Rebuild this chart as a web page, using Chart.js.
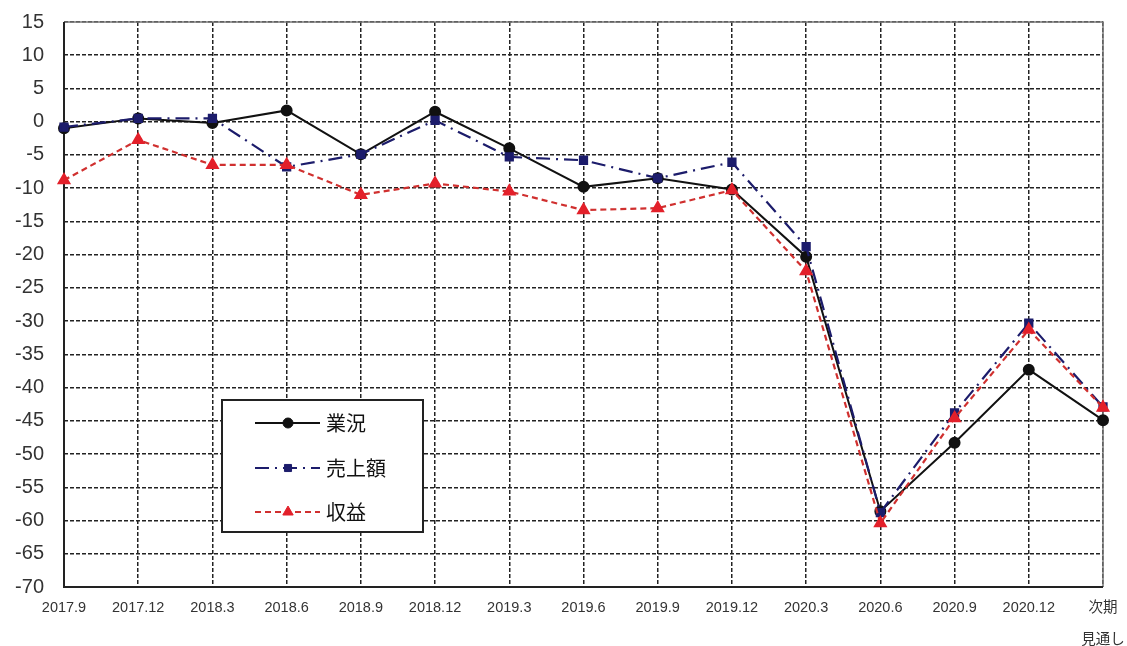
<!DOCTYPE html>
<html>
<head>
<meta charset="utf-8">
<script src="https://cdn.jsdelivr.net/npm/chart.js@4.4.1/dist/chart.umd.min.js"></script>
<style>
  html, body { margin: 0; padding: 0; background: #fff; }
  #wrap { width: 1127px; height: 646px; position: relative; }
</style>
</head>
<body>
<div id="wrap"><canvas id="c" width="1127" height="646"></canvas></div>
<script>
const categories = ['2017.9','2017.12','2018.3','2018.6','2018.9','2018.12','2019.3','2019.6','2019.9','2019.12','2020.3','2020.6','2020.9','2020.12',['次期','見通し']];
const seriesNames = ['業況','売上額','収益'];
const gyokyo  = [-1.0, 0.5, -0.2, 1.7, -4.9, 1.5, -4.0, -9.8, -8.5, -10.2, -20.3, -58.6, -48.3, -37.3, -44.9];
const uriage  = [-0.8, 0.5, 0.5, -6.8, -4.9, 0.2, -5.3, -5.8, -8.5, -6.1, -18.8, -58.8, -43.8, -30.3, -42.9];
const shueki  = [-8.8, -2.75, -6.5, -6.5, -11.0, -9.3, -10.5, -13.3, -13.0, -10.3, -22.5, -60.4, -44.6, -31.3, -43.0];
const yMin = -70, yMax = 15, yStep = 5;

const FONT = "'Liberation Sans', Arial, sans-serif";

const frame = {
  id: 'frame',
  beforeDatasetsDraw(chart) {
    const a = chart.chartArea, ctx = chart.ctx;
    ctx.save();
    ctx.setLineDash([]);
    ctx.strokeStyle = '#777';
    ctx.lineWidth = 1.5;
    ctx.beginPath();
    ctx.moveTo(a.left, a.top); ctx.lineTo(a.right, a.top); ctx.lineTo(a.right, a.bottom);
    ctx.stroke();
    ctx.strokeStyle = '#222';
    ctx.lineWidth = 2;
    ctx.beginPath();
    ctx.moveTo(a.left, a.top); ctx.lineTo(a.left, a.bottom); ctx.lineTo(a.right, a.bottom);
    ctx.stroke();
    ctx.restore();
  }
};

const boxLegend = {
  id: 'boxLegend',
  afterDraw(chart) {
    const a = chart.chartArea, ctx = chart.ctx;
    const x0 = a.left + 158, y0 = a.top + 378, w = 201, h = 132;
    ctx.save();
    ctx.fillStyle = '#fff';
    ctx.fillRect(x0, y0, w, h);
    ctx.strokeStyle = '#222';
    ctx.lineWidth = 2;
    ctx.setLineDash([]);
    ctx.strokeRect(x0, y0, w, h);
    const rows = [23, 68, 112];
    chart.data.datasets.forEach((ds, i) => {
      const yy = y0 + rows[i];
      ctx.save();
      ctx.strokeStyle = ds.borderColor;
      ctx.lineWidth = ds.borderWidth;
      ctx.setLineDash(ds.borderDash || []);
      ctx.beginPath();
      ctx.moveTo(x0 + 33, yy); ctx.lineTo(x0 + 98, yy);
      ctx.stroke();
      ctx.restore();
      ctx.save();
      ctx.fillStyle = ds.pointBackgroundColor;
      ctx.strokeStyle = ds.pointBorderColor;
      ctx.lineWidth = 1;
      ctx.setLineDash([]);
      Chart.helpers.drawPoint(ctx, {pointStyle: ds.pointStyle, radius: ds.pointRadius, borderWidth: 1, rotation: 0}, x0 + 66, yy);
      ctx.restore();
      ctx.fillStyle = '#111';
      ctx.font = "20px 'Noto Sans CJK JP', sans-serif";
      ctx.textBaseline = 'middle';
      ctx.fillText(ds.label, x0 + 104, yy);
    });
    ctx.restore();
  }
};

new Chart(document.getElementById('c'), {
  type: 'line',
  data: {
    labels: categories,
    datasets: [
      { label: seriesNames[0], data: gyokyo, borderColor: '#111', borderWidth: 2, borderDash: [],
        pointStyle: 'circle', pointRadius: 5, pointBackgroundColor: '#111', pointBorderColor: '#111', order: 2, tension: 0 },
      { label: seriesNames[1], data: uriage, borderColor: '#1c1c6b', borderWidth: 2.2, borderDash: [14, 6, 2, 6],
        pointStyle: 'rect', pointRadius: 5, pointBackgroundColor: '#1c1c6b', pointBorderColor: '#1c1c6b', order: 1, tension: 0 },
      { label: seriesNames[2], data: shueki, borderColor: '#d0302f', borderWidth: 2.2, borderDash: [6, 4],
        pointStyle: 'triangle', pointRadius: 6, pointBackgroundColor: '#e3202a', pointBorderColor: '#e3202a', order: 0, tension: 0 }
    ]
  },
  options: {
    responsive: false,
    animation: false,
    events: [],
    layout: { padding: { left: 8, right: 24, top: 22, bottom: 0 } },
    plugins: { legend: { display: false }, tooltip: { enabled: false } },
    scales: {
      x: {
        type: 'category',
        offset: false,
        grid: { color: '#222', lineWidth: 1.5, drawTicks: false },
        border: { display: false, dash: [4, 2] },
        ticks: { color: '#333', padding: 5, maxRotation: 0, autoSkip: false,
                 font: { family: "'Liberation Sans', 'Noto Sans CJK JP', sans-serif", size: 14.5, lineHeight: '32px' } },
        afterFit(s) { s.height = 59; s.paddingLeft = 0; s.paddingRight = 0; }
      },
      y: {
        min: yMin, max: yMax,
        grid: { color: '#222', lineWidth: 1.5, drawTicks: false },
        border: { display: false, dash: [4, 2] },
        ticks: { stepSize: yStep, color: '#333', padding: 20,
                 font: { family: FONT, size: 20, lineHeight: 1.0 } },
        afterFit(s) { s.width = 56; s.paddingTop = 0; s.paddingBottom = 0; }
      }
    }
  },
  plugins: [frame, boxLegend]
});
</script>
</body>
</html>
